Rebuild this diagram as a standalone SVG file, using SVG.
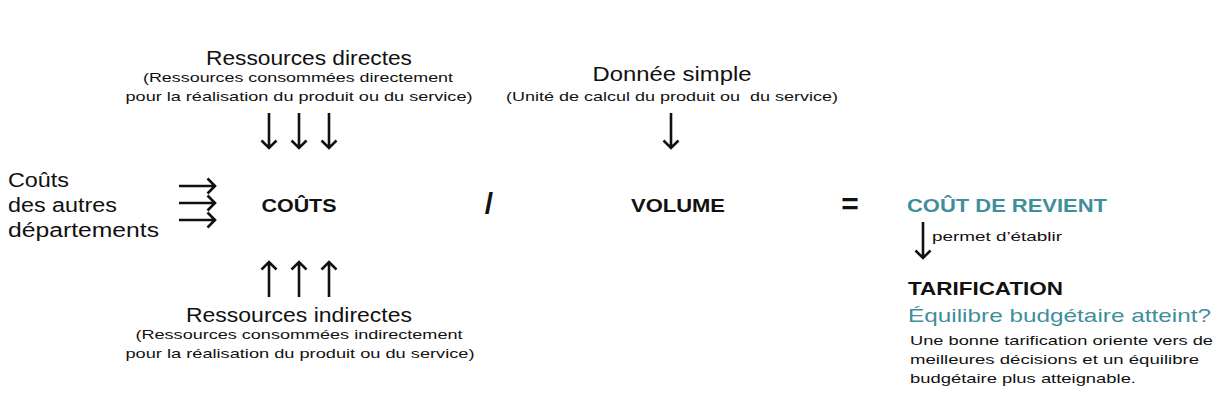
<svg xmlns="http://www.w3.org/2000/svg" width="1224" height="400" viewBox="0 0 1224 400">
<style>
text{font-family:"Liberation Sans","DejaVu Sans",sans-serif;fill:#111}
.t{font-size:20px}
.s{font-size:13.5px}
.b{font-weight:700;font-size:19px}
.teal{fill:#3f8f9b}
.arr{fill:none;stroke:#111;stroke-width:2.6;stroke-linecap:butt}
</style>
<rect width="1224" height="400" fill="#fff"/>
<g id="directes">
<text class="t" x="309" y="64.5" text-anchor="middle" textLength="206" lengthAdjust="spacingAndGlyphs">Ressources directes</text>
<text class="s" x="298" y="82" text-anchor="middle" textLength="310" lengthAdjust="spacingAndGlyphs">(Ressources consommées directement</text>
<text class="s" x="299" y="101" text-anchor="middle" textLength="347" lengthAdjust="spacingAndGlyphs">pour la réalisation du produit ou du service)</text>
</g>
<g id="autres">
<text class="t" x="8" y="187" textLength="61" lengthAdjust="spacingAndGlyphs">Coûts</text>
<text class="t" x="8" y="212" textLength="109" lengthAdjust="spacingAndGlyphs">des autres</text>
<text class="t" x="8" y="237" textLength="151" lengthAdjust="spacingAndGlyphs">départements</text>
</g>
<g id="couts"><text class="b" x="299" y="212" text-anchor="middle" textLength="75" lengthAdjust="spacingAndGlyphs">COÛTS</text></g>
<g id="div"><text x="489" y="214" text-anchor="middle" style="font-size:30px;font-weight:700">/</text></g>
<g id="indirectes">
<text class="t" x="299" y="321.5" text-anchor="middle" textLength="226" lengthAdjust="spacingAndGlyphs">Ressources indirectes</text>
<text class="s" x="299" y="339" text-anchor="middle" textLength="327" lengthAdjust="spacingAndGlyphs">(Ressources consommées indirectement</text>
<text class="s" x="300" y="358" text-anchor="middle" textLength="349" lengthAdjust="spacingAndGlyphs">pour la réalisation du produit ou du service)</text>
</g>
<g id="donnee">
<text class="t" x="672" y="81" text-anchor="middle" textLength="159" lengthAdjust="spacingAndGlyphs">Donnée simple</text>
<text class="s" x="672" y="101" text-anchor="middle" textLength="332" lengthAdjust="spacingAndGlyphs" xml:space="preserve">(Unité de calcul du produit ou  du service)</text>
</g>
<g id="volume"><text class="b" x="678" y="212" text-anchor="middle" textLength="94" lengthAdjust="spacingAndGlyphs">VOLUME</text></g>
<g id="eq"><text x="850" y="214" text-anchor="middle" style="font-size:30px;font-weight:700">=</text></g>
<g id="revient"><text class="b teal" x="907" y="212" textLength="200" lengthAdjust="spacingAndGlyphs">COÛT DE REVIENT</text></g>
<g id="tarification">
<text class="s" x="932" y="241" textLength="130" lengthAdjust="spacingAndGlyphs">permet d’établir</text>
<text class="b" x="908" y="295" textLength="155" lengthAdjust="spacingAndGlyphs">TARIFICATION</text>
<text class="teal" x="908" y="322" style="font-size:19px" textLength="303" lengthAdjust="spacingAndGlyphs">Équilibre budgétaire atteint?</text>
<text class="s" x="910" y="345" textLength="303" lengthAdjust="spacingAndGlyphs">Une bonne tarification oriente vers de</text>
<text class="s" x="910" y="364" textLength="289" lengthAdjust="spacingAndGlyphs">meilleures décisions et un équilibre</text>
<text class="s" x="910" y="383" textLength="226" lengthAdjust="spacingAndGlyphs">budgétaire plus atteignable.</text>
</g>
<g id="connectors">
<path class="arr" d="M269 113V148M261.5 140.5L269 148L276.5 140.5"/>
<path class="arr" d="M299 113V148M291.5 140.5L299 148L306.5 140.5"/>
<path class="arr" d="M329 113V148M321.5 140.5L329 148L336.5 140.5"/>
<path class="arr" d="M269 297V262M261.5 269.5L269 262L276.5 269.5"/>
<path class="arr" d="M299 297V262M291.5 269.5L299 262L306.5 269.5"/>
<path class="arr" d="M329 297V262M321.5 269.5L329 262L336.5 269.5"/>
<path class="arr" d="M179 186H215M207.5 178.5L215 186L207.5 193.5"/>
<path class="arr" d="M179 203H215M207.5 195.5L215 203L207.5 210.5"/>
<path class="arr" d="M179 220H215M207.5 212.5L215 220L207.5 227.5"/>
<path class="arr" d="M671 113V148M663.5 140.5L671 148L678.5 140.5"/>
<path class="arr" d="M923 222V258M915.5 250.5L923 258L930.5 250.5"/>
</g>
</svg>
